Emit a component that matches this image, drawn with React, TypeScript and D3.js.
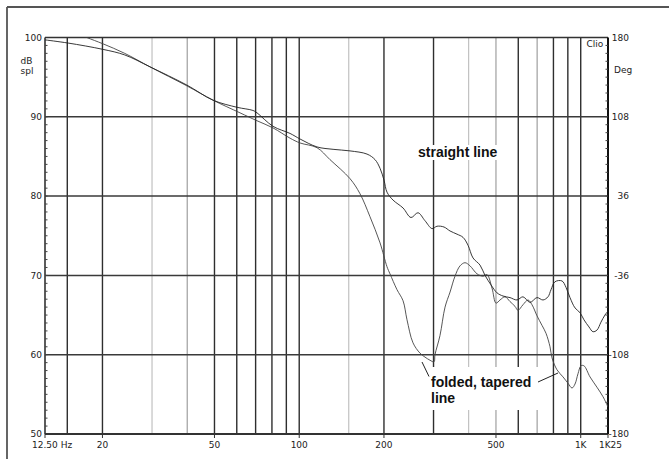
import React from "react";
import * as d3 from "d3";

// ---- data ----
const freqStraight = [12.5, 15.1, 20.1, 24.0, 29.5, 39.9, 49.4, 60.1, 68.5, 70.8, 80.7, 92.8, 100.7, 115.7, 131.9, 151.5, 174.1, 185.9, 193.7, 200.1, 205.0, 215.4, 233.8, 249.5, 264.2, 279.7, 296.4, 308.6, 326.9, 343.4, 363.5, 381.8, 397.8, 414.4, 438.8, 457.1, 480.1, 504.3, 529.6, 560.8, 593.8, 623.6, 660.4, 699.4, 734.5, 765.3, 784.2, 810.2, 857.9, 886.5, 916, 954.3, 994.2, 1027, 1070, 1105, 1142, 1180, 1219, 1250];
const dbStraight = [99.7, 99.3, 98.5, 97.8, 96.3, 94.0, 92.1, 91.2, 90.8, 90.5, 88.8, 87.9, 87.2, 86.2, 85.9, 85.7, 85.3, 84.6, 83.5, 82.0, 80.5, 79.5, 78.5, 77.3, 77.9, 76.9, 75.9, 76.2, 76.1, 75.6, 75.2, 74.8, 73.8, 72.2, 71.3, 70.0, 68.8, 67.8, 67.4, 67.2, 66.9, 67.3, 66.6, 67.2, 66.9, 67.3, 68.2, 69.2, 69.3, 68.5, 67.2, 65.9, 65.3, 64.4, 63.5, 62.9, 63.1, 64.1, 65.0, 65.5];

const freqFolded = [16.6, 17.6, 20.1, 24.0, 29.5, 39.9, 49.4, 61.6, 70.8, 80.7, 92.8, 100.7, 115.7, 128.6, 151.5, 164.4, 178.4, 193.7, 205.0, 210.1, 222.5, 233.8, 241.5, 253.6, 268.5, 279.7, 291.5, 301.2, 303.6, 316.2, 329.6, 343.4, 357.6, 372.5, 388.1, 404.4, 428.1, 449.6, 464.6, 484.0, 500.1, 516.8, 538.4, 560.8, 584.1, 598.6, 623.6, 649.6, 671.3, 699.4, 728.5, 752.8, 777.9, 790.7, 823.5, 865, 901.2, 931.1, 954.3, 978, 1002, 1027, 1079, 1142, 1200, 1250];
const dbFolded = [100.4, 100.0, 99.2, 98.0, 96.3, 93.9, 92.1, 90.5, 89.5, 88.6, 87.3, 86.7, 86.1, 84.6, 82.2, 80.3, 77.4, 74.1, 71.1, 70.2, 68.2, 66.8, 64.4, 61.5, 60.2, 59.7, 59.3, 59.1, 60.0, 62.4, 66.0, 67.9, 69.9, 71.2, 71.6, 71.2, 70.2, 69.9, 70.1, 68.4, 66.5, 66.9, 67.3, 66.7, 66.1, 65.6, 66.3, 66.9, 66.3, 64.9, 63.7, 62.7, 61.0, 59.6, 58.1, 57.2, 56.4, 55.8, 56.3, 57.6, 58.6, 58.6, 57.2, 55.9, 54.7, 53.4];

const gridFreqs = [15, 20, 30, 40, 50, 60, 70, 80, 90, 100, 150, 200, 300, 400, 500, 600, 700, 800, 900, 1000];
const lightGridFreqs = [30, 150, 400];
const mediumGridFreqs = [40, 500, 700];
const freqTickValues = [12.5, 20, 50, 100, 200, 500, 1000, 1250];
const freqTickLabels = ["12.50 Hz", "20", "50", "100", "200", "500", "1K", "1K25"];
const dbTicks = [100, 90, 80, 70, 60, 50];
const phaseTicks = [180, 108, 36, -36, -108, -180];

const W = 669;
const H = 459;
const L = 45, R = 608, T = 37.5, B = 434;

export default function App() {
  const x = d3.scaleLog().domain([12.5, 1250]).range([L, R]);
  const y = d3.scaleLinear().domain([50, 100]).range([B, T]);
  const yPh = d3.scaleLinear().domain([-180, 180]).range([B, T]);

  const line = d3
    .line<{ f: number; v: number }>()
    .x((d) => x(d.f))
    .y((d) => y(d.v))
    .curve(d3.curveCatmullRom.alpha(0.5));

  const straight = freqStraight.map((f, i) => ({ f, v: dbStraight[i] }));
  const folded = freqFolded.map((f, i) => ({ f, v: dbFolded[i] }));

  const minorDb = d3.range(51, 100, 1);
  const minorPh = d3.range(-180 + 7.2, 180, 7.2);

  const gridColor = (f: number) =>
    lightGridFreqs.includes(f) ? "#b4b4b4" : mediumGridFreqs.includes(f) ? "#8c8c8c" : "#2e2e2e";
  const gridWidth = (f: number) =>
    lightGridFreqs.includes(f) || mediumGridFreqs.includes(f) ? 1 : 1.4;

  const small = { fontFamily: "DejaVu Sans", fontSize: 9, fill: "#222" } as const;
  const bold = { fontFamily: "Liberation Sans, Arial, sans-serif", fontSize: 14, fontWeight: 700, fill: "#111" } as const;

  return (
    <svg
      width={W}
      height={H}
      style={{ position: "absolute", left: 0, top: 0, background: "#fff" }}
    >
      <rect x={0} y={0} width={W} height={H} fill="#fff" />
      {/* outer frame */}
      <line x1={7} y1={7} x2={W} y2={7} stroke="#555" strokeWidth={1.8} />
      <line x1={7} y1={7} x2={7} y2={H} stroke="#555" strokeWidth={1.8} />

      <defs>
        <clipPath id="plot">
          <rect x={L} y={T} width={R - L} height={B - T} />
        </clipPath>
      </defs>

      {/* vertical grid */}
      {gridFreqs.map((f) => (
        <line key={"v" + f} x1={x(f)} x2={x(f)} y1={T} y2={B} stroke={gridColor(f)} strokeWidth={gridWidth(f)} />
      ))}
      {/* horizontal grid */}
      {dbTicks.slice(1, -1).map((v) => (
        <line key={"h" + v} x1={L} x2={R} y1={y(v)} y2={y(v)} stroke="#3a3a3a" strokeWidth={1.5} />
      ))}

      {/* plot frame */}
      <line x1={L} x2={R} y1={T} y2={T} stroke="#333" strokeWidth={1.5} />
      <line x1={L} x2={L} y1={T} y2={B} stroke="#333" strokeWidth={1.6} />
      <line x1={L} x2={R} y1={B} y2={B} stroke="#333" strokeWidth={2} />
      <line x1={R} x2={R} y1={T} y2={B} stroke="#111" strokeWidth={2} />

      {/* minor ticks */}
      {minorDb.map((v) => (
        <line key={"ml" + v} x1={L} x2={L + 2.5} y1={y(v)} y2={y(v)} stroke="#444" strokeWidth={1} />
      ))}
      {minorPh.map((v, i) => (
        <line key={"mr" + i} x1={R - 2.5} x2={R} y1={yPh(v)} y2={yPh(v)} stroke="#444" strokeWidth={1} />
      ))}
      {freqTickValues.map((f) => (
        <line key={"bt" + f} x1={x(f)} x2={x(f)} y1={B} y2={B + 4} stroke="#333" strokeWidth={1} />
      ))}

      {/* text backgrounds */}
      <rect x={416} y={145} width={86} height={15} fill="#fff" />
      <rect x={428} y={367} width={111} height={43} fill="#fff" />

      {/* curves */}
      <g clipPath="url(#plot)">
        <path d={line(folded) || ""} fill="none" stroke="#444" strokeWidth={0.9} />
        <path d={line(straight) || ""} fill="none" stroke="#222" strokeWidth={0.9} />
      </g>

      {/* annotations */}
      <text x={418} y={157} style={bold}>straight line</text>
      <text x={431} y={387} style={bold}>folded, tapered</text>
      <text x={431} y={403} style={bold}>line</text>
      <line x1={422} y1={362} x2={429} y2={376.5} stroke="#222" strokeWidth={1} />
      <line x1={538} y1={382} x2={558} y2={373} stroke="#222" strokeWidth={1} />

      {/* left axis labels */}
      {dbTicks.map((v) => (
        <text key={"ll" + v} x={42} y={y(v) + 3.3} textAnchor="end" style={small}>
          {v}
        </text>
      ))}
      <text x={20.5} y={63.5} style={small}>dB</text>
      <text x={20.5} y={73.5} style={small}>spl</text>

      {/* right axis labels */}
      {phaseTicks.map((v) => (
        <text key={"rl" + v} x={629} y={yPh(v) + 3.3} textAnchor="end" style={small}>
          {v}
        </text>
      ))}
      <text x={614} y={72.5} style={small}>Deg</text>
      <text x={586.5} y={46.5} style={small}>Clio</text>

      {/* bottom labels */}
      {freqTickValues.map((f, i) =>
        i === 0 ? (
          <text key={"bl" + f} x={x(f) - 13} y={447.5} style={small}>
            {freqTickLabels[i]}
          </text>
        ) : (
          <text key={"bl" + f} x={x(f) + (i === freqTickValues.length - 1 ? 2.5 : 0)} y={447.5} textAnchor="middle" style={small}>
            {freqTickLabels[i]}
          </text>
        )
      )}
    </svg>
  );
}
